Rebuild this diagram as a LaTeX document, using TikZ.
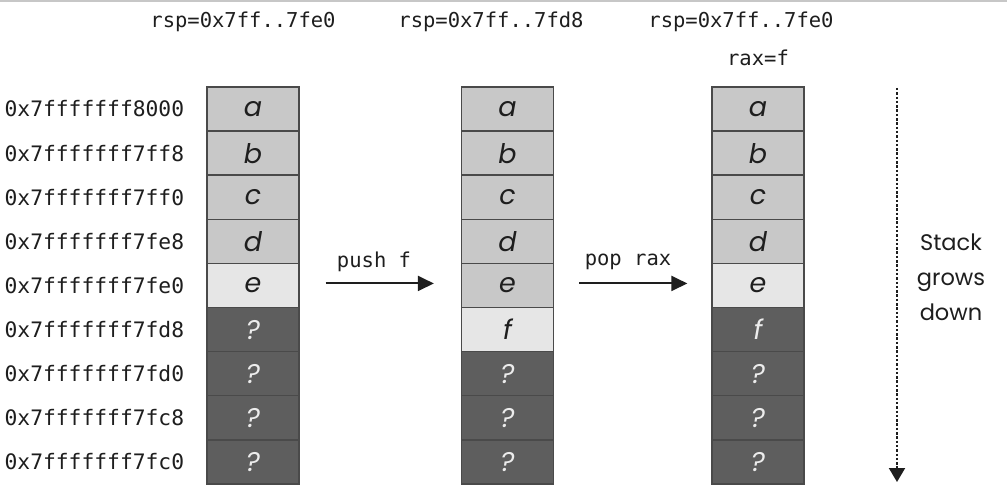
\documentclass[tikz,border=0pt]{standalone}
\usepackage{fontspec}
\setmainfont{Poppins}
\newfontfamily\monof{DejaVu Sans Mono}
\newfontfamily\futf{Poppins}
\usetikzlibrary{arrows.meta}
\definecolor{cellA}{HTML}{C8C8C8}
\definecolor{cellE}{HTML}{E6E6E6}
\definecolor{cellD}{HTML}{5E5E5E}
\definecolor{cellBorder}{HTML}{4A4A4A}
\definecolor{txt}{HTML}{1E1E1E}
\tikzset{
  cell/.style={draw=cellBorder, line width=1.3pt, minimum width=92pt, minimum height=44pt, inner sep=0pt, font=\futf\fontsize{27}{27}\selectfont\itshape, text=txt},
  lite/.style={cell, fill=cellA},
  pale/.style={cell, fill=cellE},
  dark/.style={cell, fill=cellD, text=white!85!gray},
  addr/.style={anchor=east, inner sep=0pt, font=\monof\fontsize{21.3}{21.3}\selectfont, text=txt},
  reg/.style={inner sep=0pt, font=\monof\fontsize{20.5}{20.5}\selectfont, text=txt},
  opl/.style={inner sep=0pt, font=\monof\fontsize{20.5}{20.5}\selectfont, text=txt},
  oparrow/.style={line width=2pt, color=txt, -{Triangle[length=16pt,width=15pt]}},
  note/.style={inner sep=0pt, align=center, font=\futf\fontsize{22.5}{35}\selectfont, text=txt}
}
\begin{document}
\begin{tikzpicture}[x=1pt,y=-1pt]
\useasboundingbox (0,0) rectangle (1007,492);
\fill[white] (0,0) rectangle (1007,492);
\draw[line width=1.5pt, color=black!22] (0,1) -- (1007,1);
% column 1
\foreach \r/\s/\t in {1/lite/a,2/lite/b,3/lite/c,4/lite/d,5/pale/e,6/dark/?,7/dark/?,8/dark/?,9/dark/?}
  \node[\s] (c1r\r) at (253, {87+44.1*(\r-0.5)}) {\t};
\foreach \r/\s/\t in {1/lite/a,2/lite/b,3/lite/c,4/lite/d,5/lite/e,6/pale/f,7/dark/?,8/dark/?,9/dark/?}
  \node[\s] (c2r\r) at (507.5, {87+44.1*(\r-0.5)}) {\t};
\foreach \r/\s/\t in {1/lite/a,2/lite/b,3/lite/c,4/lite/d,5/pale/e,6/dark/f,7/dark/?,8/dark/?,9/dark/?}
  \node[\s] (c3r\r) at (758, {87+44.1*(\r-0.5)}) {\t};
% addresses
\foreach \r/\a in {1/0x7fffffff8000,2/0x7fffffff7ff8,3/0x7fffffff7ff0,4/0x7fffffff7fe8,5/0x7fffffff7fe0,6/0x7fffffff7fd8,7/0x7fffffff7fd0,8/0x7fffffff7fc8,9/0x7fffffff7fc0}
  \node[addr] (ad\r) at ([xshift=-22pt]c1r\r.west) {\a};
% register labels
\node[reg] (rsp1) at (243,22) {rsp=0x7ff..7fe0};
\node[reg] (rsp2) at (491,22) {rsp=0x7ff..7fd8};
\node[reg] (rsp3) at (741,22) {rsp=0x7ff..7fe0};
\node[reg] (rax3) at (758,58) {rax=f};
% operations
\draw[oparrow] ([xshift=26pt,yshift=2pt]c1r5.east) -- ([xshift=-27pt,yshift=2pt]c2r5.west);
\node[opl] (push) at (374,262) {push f};
\draw[oparrow] ([xshift=25pt,yshift=2pt]c2r5.east) -- ([xshift=-24pt,yshift=2pt]c3r5.west);
\node[opl] (pop) at (628,262) {pop rax};
% stack grows down
\coordinate (gtop) at (897,88);
\coordinate (gbot) at (897,482);
\draw[line width=2pt, color=txt, dash pattern=on 2.5pt off 1.8pt, -{Triangle[length=14pt,width=16pt]}] (gtop) -- (gbot);
\node[note] (grow) at (951,277) {Stack\\grows\\down};
\end{tikzpicture}
\end{document}
